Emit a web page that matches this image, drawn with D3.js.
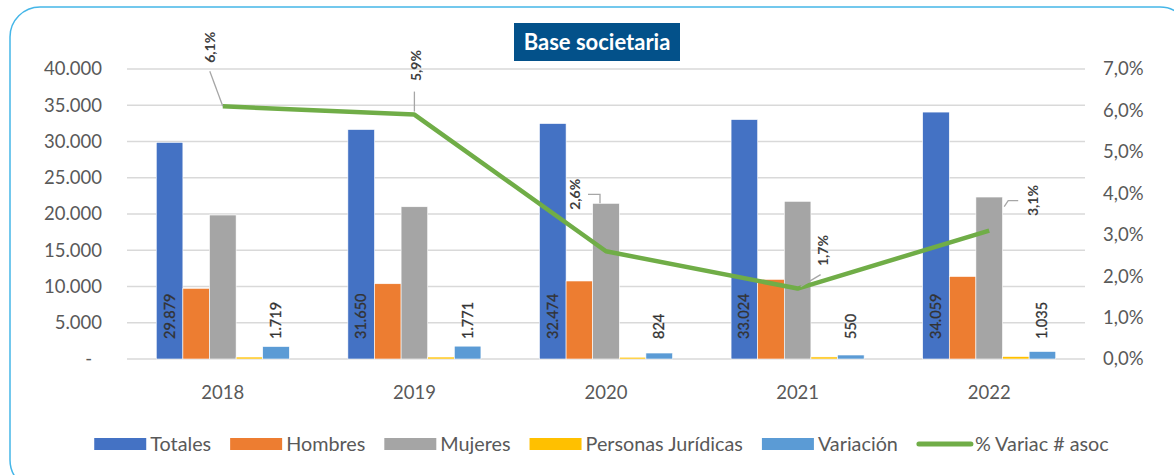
<!DOCTYPE html>
<html lang="es">
<head>
    <meta charset="UTF-8">
    <title>Base societaria</title>
    <script src="https://d3js.org/d3.v7.min.js"></script>
    <style>
        body { margin: 0; background: #fff; }
        svg { display: block; font-family: Lato, "Open Sans", sans-serif; }
    </style>
</head>
<body>
    <div id="chart"></div>
    <script>
        // data
        const years = ["2018", "2019", "2020", "2021", "2022"];
        const totales = [29879, 31650, 32474, 33024, 34059];
        const hombres = [9750, 10380, 10760, 10990, 11380];
        const mujeres = [19860, 21000, 21470, 21750, 22340];
        const juridicas = [270, 270, 244, 284, 339];
        const variacion = [1719, 1771, 824, 550, 1035];
        const pctVariac = [0.061, 0.059, 0.026, 0.017, 0.031];

        const seriesNames = ["Totales", "Hombres", "Mujeres", "Personas Jurídicas", "Variación"];
        const seriesColors = ["#4472C4", "#ED7D31", "#A5A5A5", "#FFC000", "#5B9BD5"];
        const lineName = "% Variac # asoc";
        const lineColor = "#70AD47";
        const leftTicks = [0, 5000, 10000, 15000, 20000, 25000, 30000, 35000, 40000];
        const rightTicks = [0, 0.01, 0.02, 0.03, 0.04, 0.05, 0.06, 0.07];

        const width = 1174, height = 475;
        const margin = { top: 69, right: 89, bottom: 116, left: 127 };

        const svg = d3.select("#chart").append("svg")
            .attr("width", width)
            .attr("height", height);

        // rounded frame
        svg.append("rect")
            .attr("x", 10).attr("y", 7)
            .attr("width", 1180).attr("height", 483)
            .attr("rx", 30)
            .attr("fill", "none")
            .attr("stroke", "#45B6E8")
            .attr("stroke-width", 1.5);

        const x0 = d3.scaleBand()
            .domain(years)
            .range([margin.left, width - margin.right]);

        const x1 = d3.scaleBand()
            .domain(seriesNames)
            .range([0, x0.bandwidth()])
            .paddingOuter(1.1);

        const y = d3.scaleLinear()
            .domain([0, 40000])
            .range([height - margin.bottom, margin.top]);

        const yR = d3.scaleLinear()
            .domain([0, 0.07])
            .range([height - margin.bottom, margin.top]);

        const fmtNum = d3.formatLocale({ decimal: ",", thousands: ".", grouping: [3], currency: ["", ""] }).format(",d");
        const fmtPct = v => d3.format(".1f")(v * 100).replace(".", ",") + "%";

        // gridlines
        svg.append("g")
            .selectAll("line")
            .data(leftTicks)
            .join("line")
            .attr("x1", margin.left)
            .attr("x2", width - margin.right)
            .attr("y1", d => y(d))
            .attr("y2", d => y(d))
            .attr("stroke", "#D9D9D9")
            .attr("stroke-width", 1.3);

        // left axis
        const leftAxis = svg.append("g")
            .attr("transform", `translate(${margin.left - 25},0)`)
            .call(d3.axisLeft(y).tickValues(leftTicks).tickSize(0).tickPadding(0)
                .tickFormat(d => d === 0 ? "-" : fmtNum(d)));
        leftAxis.select(".domain").remove();
        leftAxis.selectAll("text")
            .attr("font-size", 18.5)
            .attr("font-family", "Lato, sans-serif")
            .attr("fill", "#595959")
            .attr("dx", d => d === 0 ? -10 : 0);

        // right axis
        const rightAxis = svg.append("g")
            .attr("transform", `translate(${width - margin.right + 18},0)`)
            .call(d3.axisRight(yR).tickValues(rightTicks).tickSize(0).tickPadding(0)
                .tickFormat(fmtPct));
        rightAxis.select(".domain").remove();
        rightAxis.selectAll("text")
            .attr("font-size", 18.5)
            .attr("font-family", "Lato, sans-serif")
            .attr("fill", "#595959");

        // bottom axis
        const bottomAxis = svg.append("g")
            .attr("transform", `translate(0,${height - margin.bottom + 15})`)
            .call(d3.axisBottom(x0).tickSize(0).tickPadding(12));
        bottomAxis.select(".domain").remove();
        bottomAxis.selectAll("text")
            .attr("font-size", 18.5)
            .attr("font-family", "Lato, sans-serif")
            .attr("fill", "#595959");

        // bars
        const seriesValues = [totales, hombres, mujeres, juridicas, variacion];
        const barData = [];
        years.forEach((yr, i) => {
            seriesNames.forEach((s, j) => {
                barData.push({ year: yr, series: s, value: seriesValues[j][i], color: seriesColors[j] });
            });
        });

        svg.append("g")
            .selectAll("rect")
            .data(barData)
            .join("rect")
            .attr("x", d => x0(d.year) + x1(d.series))
            .attr("y", d => y(d.value))
            .attr("width", x1.bandwidth())
            .attr("height", d => y(0) - y(d.value))
            .attr("fill", d => d.color)
            .attr("stroke", "#fff")
            .attr("stroke-width", 0.6);

        // value labels for Totales and Variación, rotated at the bottom
        const labelData = barData.filter(d => d.series === "Totales" || d.series === "Variación");
        svg.append("g")
            .selectAll("text")
            .data(labelData)
            .join("text")
            .attr("transform", d => `translate(${x0(d.year) + x1(d.series) + x1.bandwidth() / 2 + 5},${y(0) - 20}) rotate(-90)`)
            .attr("text-anchor", "start")
            .attr("font-size", 14.5)
            .attr("fill", "#333")
            .attr("stroke", "#333")
            .attr("stroke-width", 0.3)
            .text(d => fmtNum(d.value));

        // line
        const lineGen = d3.line()
            .x((d, i) => x0(years[i]) + x0.bandwidth() / 2)
            .y(d => yR(d));

        svg.append("path")
            .datum(pctVariac)
            .attr("d", lineGen)
            .attr("fill", "none")
            .attr("stroke", lineColor)
            .attr("stroke-width", 4.5)
            .attr("stroke-linejoin", "round");

        // percent labels (manually placed like the original) with leader lines
        const pctLabelOffsets = [[-13, -59], [2, -49], [-31, -57], [25, -38], [44, -30]];
        const leaders = [
            [[-13, -35], [0, 0]],
            [[0, -23], [0, -3]],
            [[-18, -57], [-6, -57], [-6, -48]],
            [[23, -14], [3, -2]],
            [[29, -30], [19, -30], [15, -24]]
        ];

        pctVariac.forEach((v, i) => {
            const px = x0(years[i]) + x0.bandwidth() / 2;
            const py = yR(v);
            svg.append("path")
                .attr("d", d3.line()(leaders[i].map(p => [px + p[0], py + p[1]])))
                .attr("fill", "none")
                .attr("stroke", "#A6A6A6")
                .attr("stroke-width", 1.3);
            svg.append("text")
                .attr("transform", `translate(${px + pctLabelOffsets[i][0] + 5},${py + pctLabelOffsets[i][1]}) rotate(-90)`)
                .attr("text-anchor", "middle")
                .attr("font-size", 14)
                .attr("font-weight", "bold")
                .attr("fill", "#404040")
                .text(fmtPct(v));
        });

        // title
        const title = svg.append("g");
        title.append("rect")
            .attr("x", 514).attr("y", 23)
            .attr("width", 166).attr("height", 38)
            .attr("fill", "#03518A");
        title.append("text")
            .attr("x", 597).attr("y", 50)
            .attr("text-anchor", "middle")
            .attr("font-size", 22)
            .attr("font-weight", "bold")
            .attr("fill", "#fff")
            .text("Base societaria");

        // legend
        const legendItems = seriesNames.map((s, i) => ({ name: s, color: seriesColors[i], type: "rect" }))
            .concat([{ name: lineName, color: lineColor, type: "line" }]);
        const legend = svg.append("g").attr("transform", "translate(0,444)");
        let lx = 0;
        const items = legend.selectAll("g")
            .data(legendItems)
            .join("g");
        items.each(function (d) {
            const g = d3.select(this);
            if (d.type === "rect") {
                g.append("rect").attr("x", 0).attr("y", -6).attr("width", 52).attr("height", 12).attr("fill", d.color);
            } else {
                g.append("line").attr("x1", 2).attr("x2", 54).attr("y1", 0).attr("y2", 0)
                    .attr("stroke", d.color).attr("stroke-width", 5).attr("stroke-linecap", "round");
            }
            const t = g.append("text")
                .attr("x", d.type === "rect" ? 56 : 58)
                .attr("y", 7)
                .attr("font-size", 19.8)
                .attr("fill", "#595959")
                .text(d.name);
            const w = (d.type === "rect" ? 56 : 58) + t.node().getComputedTextLength();
            g.attr("transform", `translate(${lx},0)`);
            lx += w + 19;
        });
        const legendWidth = lx - 19;
        legend.attr("transform", `translate(${601.5 - legendWidth / 2},444)`);
    </script>
</body>
</html>
